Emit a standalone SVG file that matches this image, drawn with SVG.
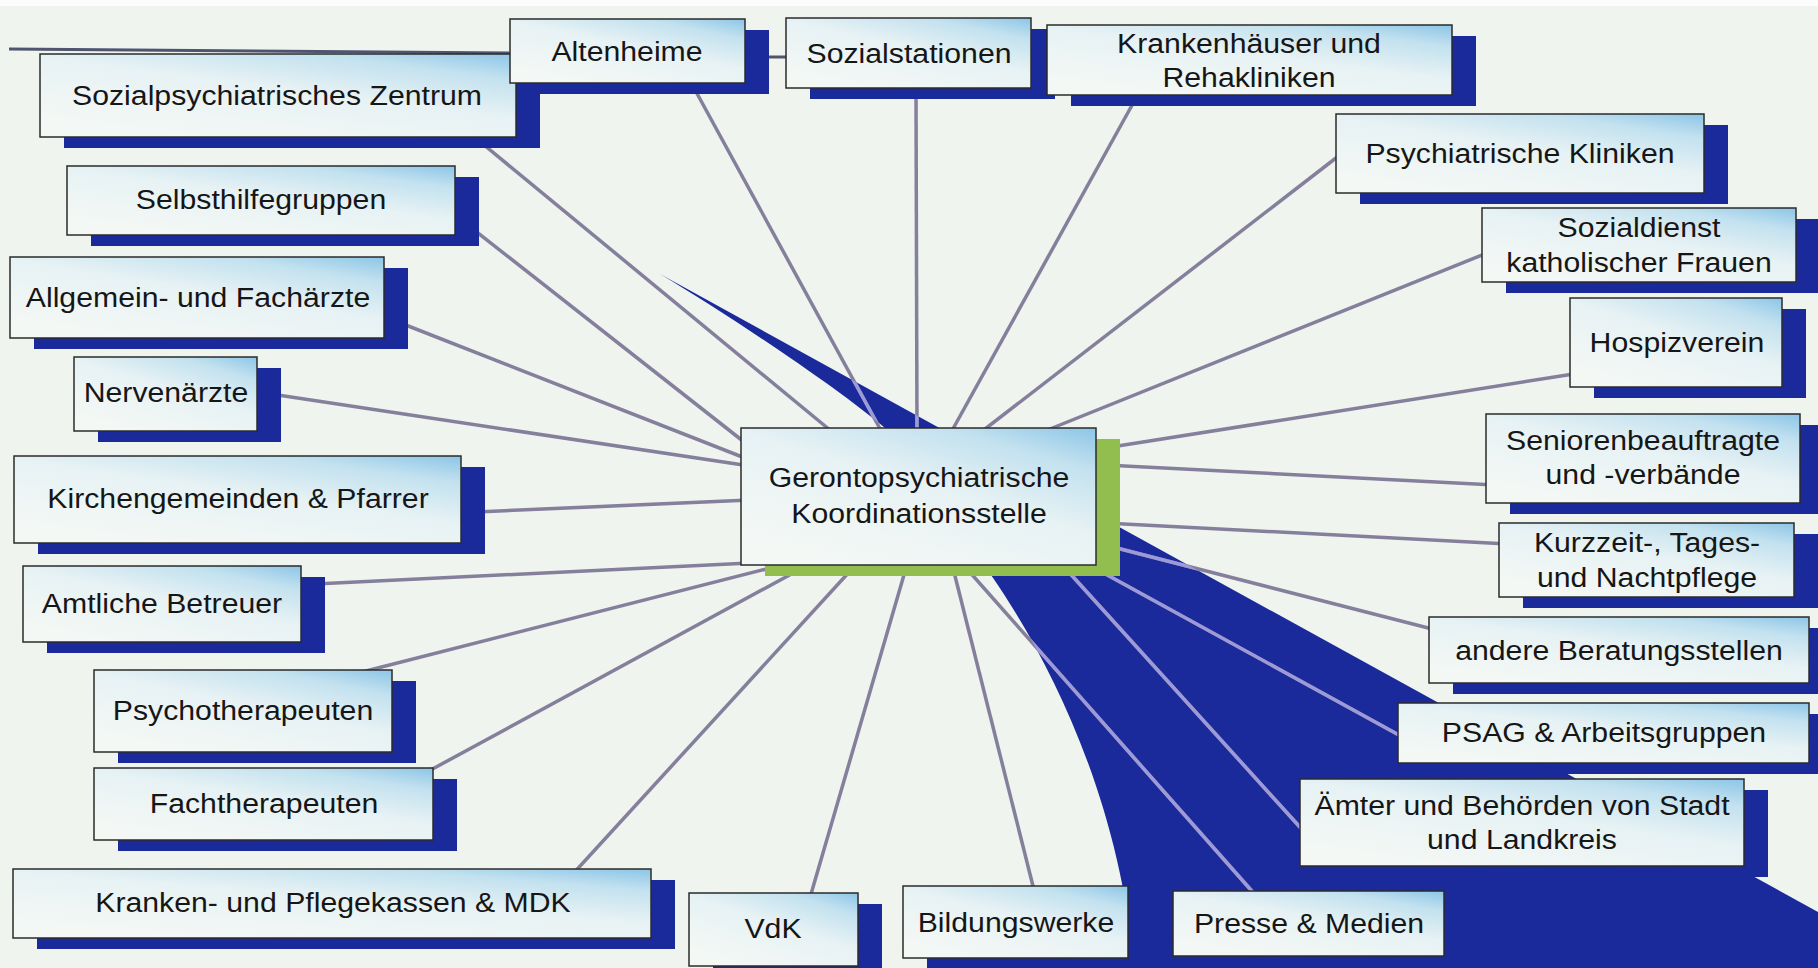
<svg xmlns="http://www.w3.org/2000/svg" xmlns:xlink="http://www.w3.org/1999/xlink" width="1818" height="968" viewBox="0 0 1818 968">
<defs>
<linearGradient id="bx" x1="0.25" y1="1" x2="1" y2="0">
<stop offset="0" stop-color="#f4f8f5"/>
<stop offset="0.5" stop-color="#e7f2f4"/>
<stop offset="0.8" stop-color="#c2e1ef"/>
<stop offset="1" stop-color="#8cc5e7"/>
</linearGradient>
<path id="swoosh" d="M660,274 L1818,912 L1818,968 L1134,968 C1120,800 1050,660 991,575 C965,525 920,466 885,428 C840,390 740,322 660,274 Z"/>
<clipPath id="swclip"><use xlink:href="#swoosh"/></clipPath>
<style>
.box{fill:url(#bx);stroke:#2b2b2b;stroke-width:1.5}
.sh{fill:#1b2a9a}
.shg{fill:#92bd4f}
.t{font-family:"Liberation Sans",Arial,sans-serif;font-size:27px;fill:#161616;text-anchor:middle}
</style>
</defs>
<rect width="1818" height="968" fill="#eff4ef"/>
<rect width="1818" height="6" fill="#fbfcfb"/>
<use xlink:href="#swoosh" fill="#1b2a9a"/>
<g id="connectors" fill="none" stroke-linecap="butt">
<g stroke="#4f556e" stroke-width="3">
<line x1="9" y1="49" x2="514" y2="53"/>
<line x1="760" y1="57" x2="790" y2="57"/>
</g>
<g stroke="#857f9c" stroke-width="3.5">
<g id="connlines">
<line x1="478" y1="140" x2="836" y2="435"/>
<line x1="694" y1="88" x2="884" y2="436"/>
<line x1="916" y1="92" x2="917" y2="436"/>
<line x1="1136" y1="98" x2="949" y2="436"/>
<line x1="1345" y1="151" x2="976" y2="436"/>
<line x1="1492" y1="251" x2="1040" y2="433"/>
<line x1="1580" y1="373" x2="1105" y2="448"/>
<line x1="1495" y1="485" x2="1105" y2="465"/>
<line x1="1508" y1="544" x2="1105" y2="523"/>
<line x1="1440" y1="631" x2="1105" y2="545"/>
<line x1="1408" y1="740" x2="1100" y2="571"/>
<line x1="1308" y1="836" x2="1066" y2="569"/>
<line x1="1258" y1="898" x2="967" y2="569"/>
<line x1="1035" y1="894" x2="953" y2="568"/>
<line x1="809" y1="901" x2="906" y2="568"/>
<line x1="571" y1="876" x2="851" y2="570"/>
<line x1="427" y1="772" x2="795" y2="572"/>
<line x1="362" y1="672" x2="778" y2="566"/>
<line x1="315" y1="584" x2="750" y2="563"/>
<line x1="476" y1="512" x2="750" y2="500"/>
<line x1="271" y1="394" x2="750" y2="466"/>
<line x1="398" y1="322" x2="750" y2="460"/>
<line x1="450" y1="211" x2="748" y2="445"/>
</g>
</g>
<use xlink:href="#connlines" stroke="#9d9ad9" stroke-width="3.5" clip-path="url(#swclip)"/>
</g>

<g id="n-sozialpsych"><rect class="sh" x="64" y="65" width="476" height="83"/><rect class="box" x="40" y="54" width="476" height="83"/><text class="t" transform="translate(277 105) scale(1.12 1)">Sozialpsychiatrisches Zentrum</text></g>
<g id="n-altenheime"><rect class="sh" x="534" y="30" width="235" height="64"/><rect class="box" x="510" y="19" width="235" height="64"/><text class="t" transform="translate(627 61) scale(1.12 1)">Altenheime</text></g>
<g id="n-sozialstationen"><rect class="sh" x="810" y="29" width="245" height="70"/><rect class="box" x="786" y="18" width="245" height="70"/><text class="t" transform="translate(909 63) scale(1.12 1)">Sozialstationen</text></g>
<g id="n-krankenhaeuser"><rect class="sh" x="1071" y="36" width="405" height="70"/><rect class="box" x="1047" y="25" width="405" height="70"/><text class="t" transform="translate(1249 53) scale(1.12 1)">Krankenhäuser und</text><text class="t" transform="translate(1249 87) scale(1.12 1)">Rehakliniken</text></g>
<g id="n-psychkliniken"><rect class="sh" x="1360" y="125" width="368" height="79"/><rect class="box" x="1336" y="114" width="368" height="79"/><text class="t" transform="translate(1520 163) scale(1.12 1)">Psychiatrische Kliniken</text></g>
<g id="n-sozialdienst"><rect class="sh" x="1506" y="219" width="314" height="74"/><rect class="box" x="1482" y="208" width="314" height="74"/><text class="t" transform="translate(1639 237) scale(1.12 1)">Sozialdienst</text><text class="t" transform="translate(1639 272) scale(1.12 1)">katholischer Frauen</text></g>
<g id="n-hospiz"><rect class="sh" x="1594" y="309" width="212" height="89"/><rect class="box" x="1570" y="298" width="212" height="89"/><text class="t" transform="translate(1677 352) scale(1.12 1)">Hospizverein</text></g>
<g id="n-senioren"><rect class="sh" x="1510" y="425" width="314" height="89"/><rect class="box" x="1486" y="414" width="314" height="89"/><text class="t" transform="translate(1643 450) scale(1.12 1)">Seniorenbeauftragte</text><text class="t" transform="translate(1643 484) scale(1.12 1)">und -verbände</text></g>
<g id="n-kurzzeit"><rect class="sh" x="1523" y="534" width="295" height="74"/><rect class="box" x="1499" y="523" width="295" height="74"/><text class="t" transform="translate(1647 552) scale(1.12 1)">Kurzzeit-, Tages-</text><text class="t" transform="translate(1647 587) scale(1.12 1)">und Nachtpflege</text></g>
<g id="n-andere"><rect class="sh" x="1453" y="628" width="380" height="66"/><rect class="box" x="1429" y="617" width="380" height="66"/><text class="t" transform="translate(1619 660) scale(1.12 1)">andere Beratungsstellen</text></g>
<g id="n-psag"><rect class="sh" x="1422" y="714" width="411" height="60"/><rect class="box" x="1398" y="703" width="411" height="60"/><text class="t" transform="translate(1604 742) scale(1.12 1)">PSAG &amp; Arbeitsgruppen</text></g>
<g id="n-aemter"><rect class="sh" x="1324" y="790" width="444" height="87"/><rect class="box" x="1300" y="779" width="444" height="87"/><text class="t" transform="translate(1522 815) scale(1.12 1)">Ämter und Behörden von Stadt</text><text class="t" transform="translate(1522 849) scale(1.12 1)">und Landkreis</text></g>
<g id="n-presse"><rect class="sh" x="1197" y="902" width="271" height="65"/><rect class="box" x="1173" y="891" width="271" height="65"/><text class="t" transform="translate(1309 933) scale(1.12 1)">Presse &amp; Medien</text></g>
<g id="n-bildungswerke"><rect class="sh" x="927" y="897" width="225" height="72"/><rect class="box" x="903" y="886" width="225" height="72"/><text class="t" transform="translate(1016 932) scale(1.12 1)">Bildungswerke</text></g>
<g id="n-vdk"><rect class="sh" x="713" y="904" width="169" height="73"/><rect class="box" x="689" y="893" width="169" height="73"/><text class="t" transform="translate(773 938) scale(1.12 1)">VdK</text></g>
<g id="n-kassen"><rect class="sh" x="37" y="880" width="638" height="69"/><rect class="box" x="13" y="869" width="638" height="69"/><text class="t" transform="translate(333 912) scale(1.12 1)">Kranken- und Pflegekassen &amp; MDK</text></g>
<g id="n-fachtherapeuten"><rect class="sh" x="118" y="779" width="339" height="72"/><rect class="box" x="94" y="768" width="339" height="72"/><text class="t" transform="translate(264 813) scale(1.12 1)">Fachtherapeuten</text></g>
<g id="n-psychotherapeuten"><rect class="sh" x="118" y="681" width="298" height="82"/><rect class="box" x="94" y="670" width="298" height="82"/><text class="t" transform="translate(243 720) scale(1.12 1)">Psychotherapeuten</text></g>
<g id="n-amtliche"><rect class="sh" x="47" y="577" width="278" height="76"/><rect class="box" x="23" y="566" width="278" height="76"/><text class="t" transform="translate(162 613) scale(1.12 1)">Amtliche Betreuer</text></g>
<g id="n-kirchengemeinden"><rect class="sh" x="38" y="467" width="447" height="87"/><rect class="box" x="14" y="456" width="447" height="87"/><text class="t" transform="translate(238 508) scale(1.12 1)">Kirchengemeinden &amp; Pfarrer</text></g>
<g id="n-nervenaerzte"><rect class="sh" x="98" y="368" width="183" height="74"/><rect class="box" x="74" y="357" width="183" height="74"/><text class="t" transform="translate(166 402) scale(1.12 1)">Nervenärzte</text></g>
<g id="n-allgemein"><rect class="sh" x="34" y="268" width="374" height="81"/><rect class="box" x="10" y="257" width="374" height="81"/><text class="t" transform="translate(198 307) scale(1.12 1)">Allgemein- und Fachärzte</text></g>
<g id="n-selbsthilfe"><rect class="sh" x="91" y="177" width="388" height="69"/><rect class="box" x="67" y="166" width="388" height="69"/><text class="t" transform="translate(261 209) scale(1.12 1)">Selbsthilfegruppen</text></g>
<g id="n-center"><rect class="shg" x="765" y="439" width="355" height="137"/><rect class="box" x="741" y="428" width="355" height="137"/><text class="t" transform="translate(919 487) scale(1.12 1)">Gerontopsychiatrische</text><text class="t" transform="translate(919 523) scale(1.12 1)">Koordinationsstelle</text></g>
</svg>
